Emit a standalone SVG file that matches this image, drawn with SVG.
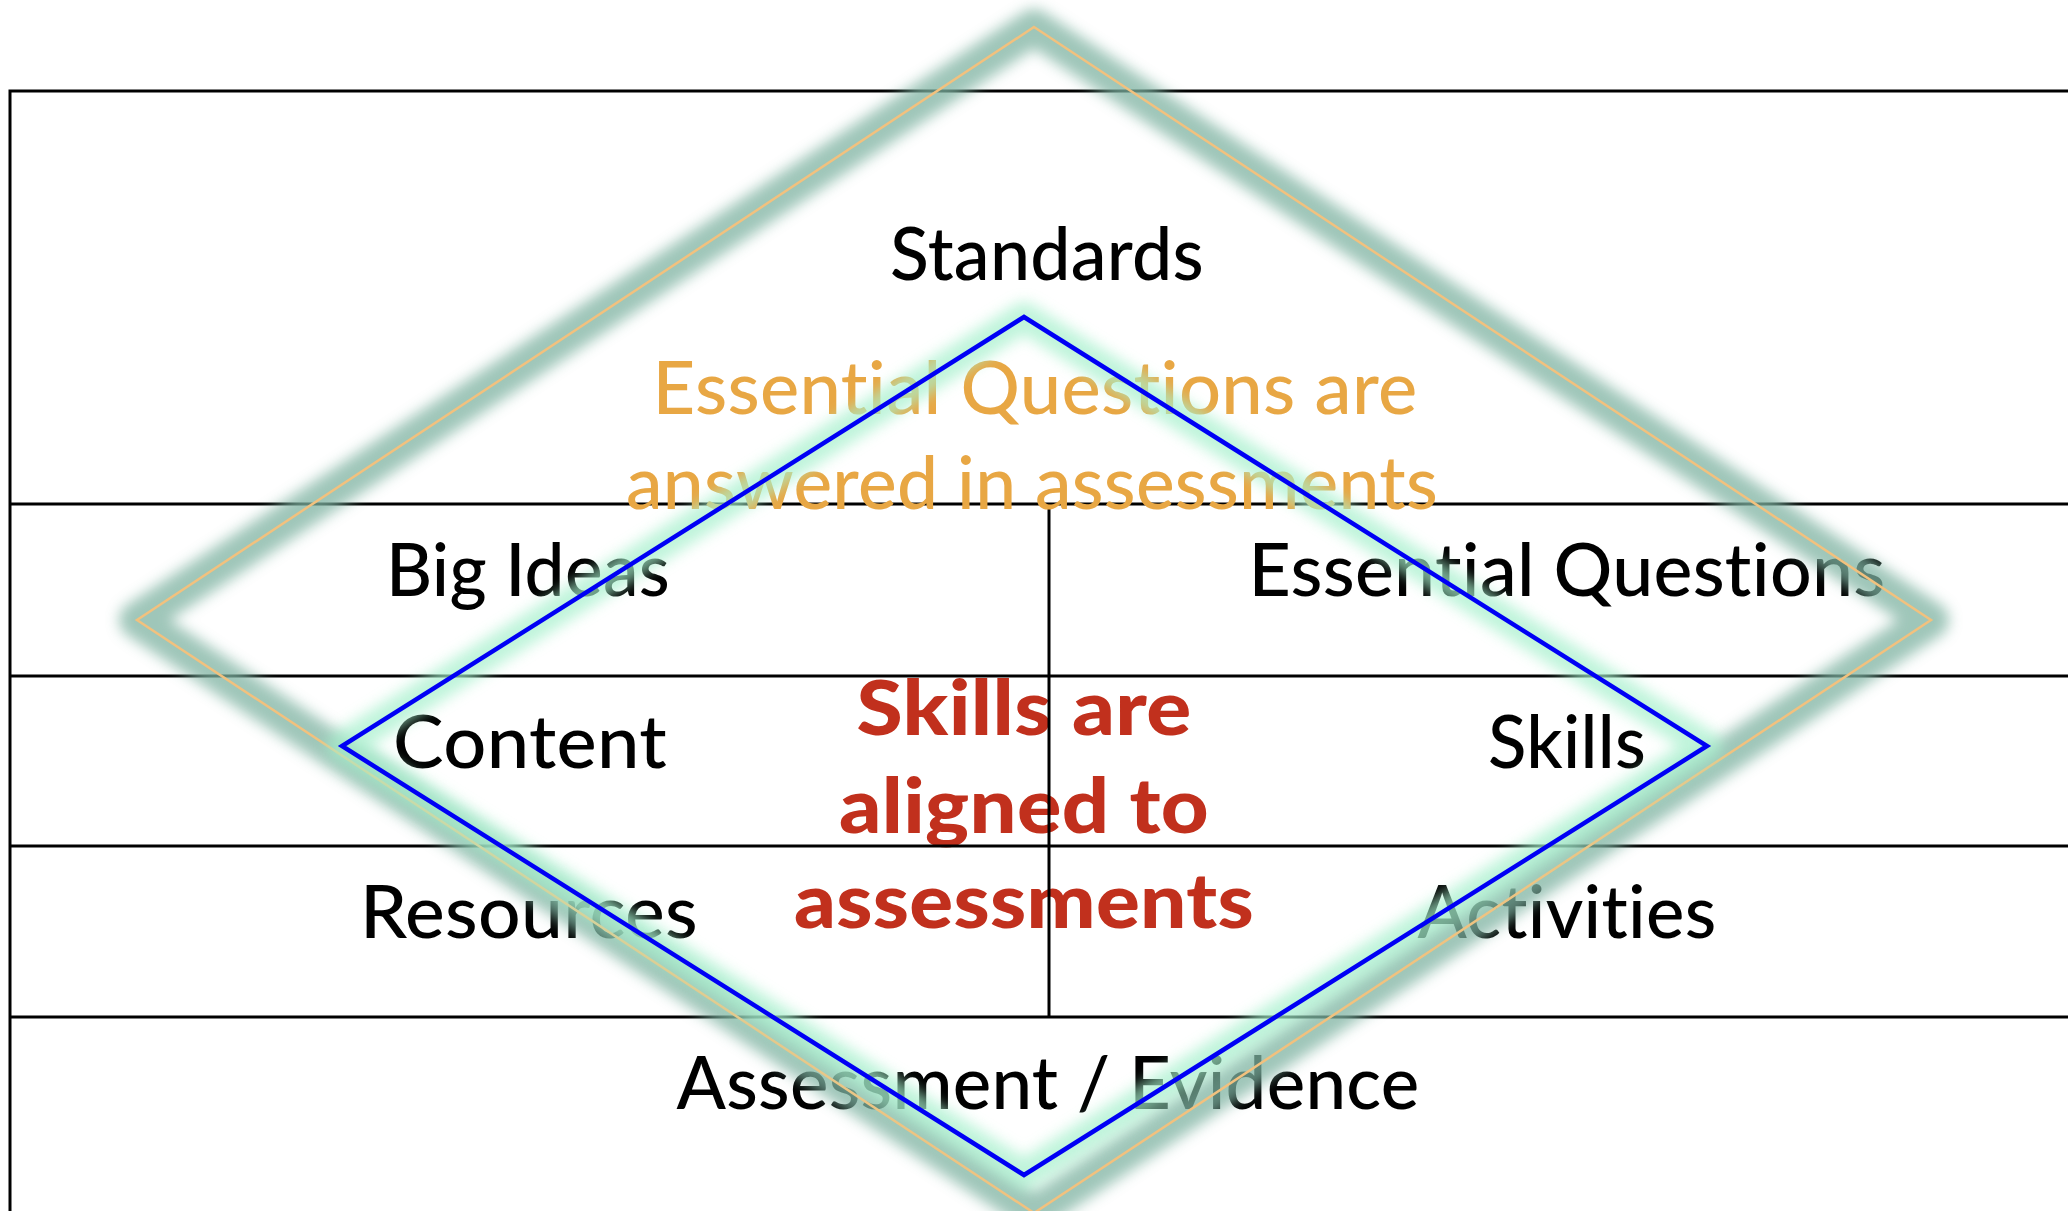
<svg xmlns="http://www.w3.org/2000/svg" width="2068" height="1211" viewBox="0 0 2068 1211">
  <style>
    text { font-variant-ligatures: none; font-feature-settings: "liga" 0, "clig" 0, "dlig" 0; letter-spacing: 0.3px; }
    .grid { stroke: #000; stroke-width: 3; fill: none; }
    .lbl { font-family: Lato, "Open Sans", "Liberation Sans", sans-serif; font-weight: 500; font-size: 74px; fill: #000; }
    .note { font-family: Lato, "Open Sans", "Liberation Sans", sans-serif; font-weight: 500; font-size: 74px; fill: #E8A744; }
    .key { font-family: Lato, "Open Sans", "Liberation Sans", sans-serif; font-weight: 900; font-size: 76px; fill: #C1301D; }
  </style>
  <defs>
    <filter id="soft" x="-20%" y="-20%" width="140%" height="140%">
      <feGaussianBlur stdDeviation="7"/>
    </filter>
  </defs>
  <rect width="2068" height="1211" fill="#fff"/>

  <!-- centre message -->
  <g id="aligned">
    <text class="key" x="1024" y="735" text-anchor="middle" textLength="335" lengthAdjust="spacingAndGlyphs">Skills are</text>
    <text class="key" x="1024" y="833" text-anchor="middle" textLength="370" lengthAdjust="spacingAndGlyphs">aligned to</text>
    <text class="key" x="1024" y="928" text-anchor="middle" textLength="460" lengthAdjust="spacingAndGlyphs">assessments</text>
  </g>

  <!-- planning table -->
  <g id="table">
    <path class="grid" d="M10,1211 V91 H2068 M10,504 H2068 M10,676 H2068 M10,846 H2068 M10,1017 H2068 M1049,504 V1017"/>
  </g>

  <g id="standards"><text class="lbl" x="1047" y="280" text-anchor="middle" textLength="314" lengthAdjust="spacingAndGlyphs">Standards</text></g>
  <g id="big-ideas"><text class="lbl" x="528" y="596" text-anchor="middle" textLength="284" lengthAdjust="spacingAndGlyphs">Big Ideas</text></g>
  <g id="essential-questions"><text class="lbl" x="1567" y="596" text-anchor="middle" textLength="637" lengthAdjust="spacingAndGlyphs">Essential Questions</text></g>
  <g id="content"><text class="lbl" x="530" y="768" text-anchor="middle" textLength="274" lengthAdjust="spacingAndGlyphs">Content</text></g>
  <g id="skills"><text class="lbl" x="1567" y="768" text-anchor="middle" textLength="158" lengthAdjust="spacingAndGlyphs">Skills</text></g>
  <g id="resources"><text class="lbl" x="529" y="938" text-anchor="middle" textLength="338" lengthAdjust="spacingAndGlyphs">Resources</text></g>
  <g id="activities"><text class="lbl" x="1567" y="938" text-anchor="middle" textLength="299" lengthAdjust="spacingAndGlyphs">Activities</text></g>
  <g id="assessment"><text class="lbl" x="1048" y="1109" text-anchor="middle" textLength="743" lengthAdjust="spacingAndGlyphs">Assessment / Evidence</text></g>

  <g id="eq-note">
    <text class="note" x="1035" y="414" text-anchor="middle" textLength="765" lengthAdjust="spacingAndGlyphs">Essential Questions are</text>
    <text class="note" x="1032" y="509" text-anchor="middle" textLength="812" lengthAdjust="spacingAndGlyphs">answered in assessments</text>
  </g>

  <!-- alignment diamonds -->
  <g id="connectors">
    <g id="outer-diamond">
      <path d="M1034,27 L1931,620 L1034,1213 L137,620 Z" fill="none" stroke="#7fb3a2" stroke-width="36" stroke-linejoin="round" opacity="0.75" filter="url(#soft)"/>
      <path d="M1034,27 L1931,620 L1034,1213 L137,620 Z" fill="none" stroke="#F2C17E" stroke-width="2.5"/>
    </g>
    <g id="inner-diamond">
      <path d="M1024,317 L1707,746 L1024,1175 L342,746 Z" fill="none" stroke="#a6f0cc" stroke-width="30" stroke-linejoin="round" opacity="0.7" filter="url(#soft)"/>
      <path d="M1024,317 L1707,746 L1024,1175 L342,746 Z" fill="none" stroke="#0000F5" stroke-width="4.5"/>
    </g>
  </g>
</svg>
